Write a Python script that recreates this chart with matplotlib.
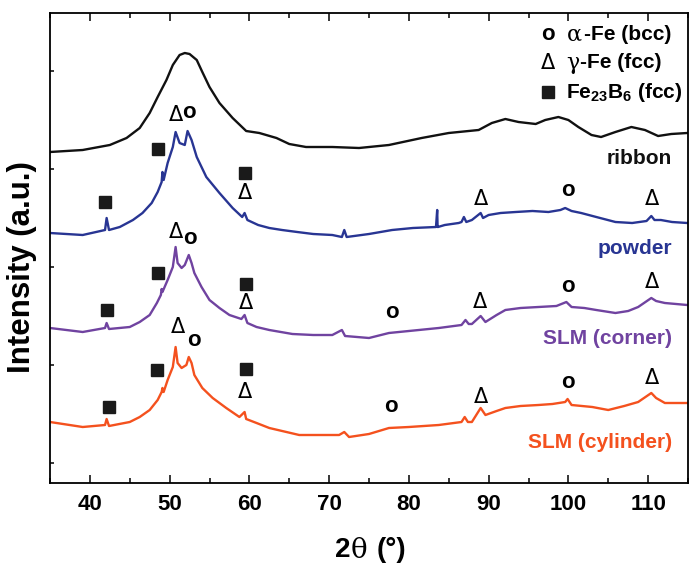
import matplotlib
matplotlib.use("Agg")
import matplotlib.pyplot as plt
import numpy as np

plt.rcParams['font.family'] = ['Liberation Sans', 'DejaVu Sans']
plt.rcParams['font.weight'] = 'bold'
plt.rcParams['mathtext.fontset'] = 'custom'
plt.rcParams['mathtext.bf'] = 'Liberation Sans:bold'
plt.rcParams['mathtext.rm'] = 'Liberation Sans:bold'
plt.rcParams['mathtext.default'] = 'bf'

# 2theta / intensity (arb. units, already offset)
ribbon_x = [35, 39.1, 42.5, 44.6, 46.25, 47.5, 48.5, 49.6, 50.4, 51.25, 51.9, 52.5, 53.4,
            54.1, 55.0, 56.25, 57.9, 59.6, 61.25, 63.4, 65.0, 67.1, 70.4, 73.75, 77.5,
            81.6, 85.0, 88.75, 90.4, 92.1, 93.75, 95.9, 97.1, 98.75, 100.0, 101.25,
            102.9, 104.1, 105.9, 107.9, 109.6, 111.25, 112.9, 114.9]
ribbon_y = [331, 333, 338, 345, 355, 370, 386, 403, 418, 428, 430, 429, 423,
            411, 396, 380, 365, 352, 350, 345, 339, 336, 336, 335, 338,
            345, 350, 353, 360, 364, 361, 359, 363, 366, 363, 356,
            348, 346, 351, 356, 353, 347, 349, 350]

powder_x = [35, 39.1, 41.9, 42.1, 42.4, 43.75, 45.4, 46.6, 47.75, 48.5, 49.0, 49.1, 49.25,
            49.75, 50.4, 50.75, 51.25, 51.9, 52.25, 52.75, 53.4, 54.6, 56.25, 57.9, 59.1,
            59.4, 59.75, 61.1, 62.5, 64.1, 66.0, 68.0, 70.4, 71.6, 71.9, 72.2, 75.0,
            77.9, 80.5, 83.4, 83.55, 83.6, 83.65, 84.5, 86.25, 86.6, 86.9, 87.2, 87.9,
            89.0, 89.3, 90.0, 91.5, 93.4, 95.5, 97.5, 99.0, 99.6, 100.4, 101.6, 103.5,
            105.9, 108.0, 109.8, 110.4, 110.8, 111.6, 113.0, 114.9]
powder_y = [250, 248, 253, 265, 253, 256, 263, 270, 280, 291, 301, 311, 303,
            320, 336, 351, 340, 338, 352, 343, 326, 306, 290, 275, 266,
            270, 263, 258, 255, 253, 251, 249, 248, 246, 253, 246, 249,
            253, 255, 256, 273, 256, 256, 258, 260, 261, 266, 261, 263,
            270, 265, 268, 270, 271, 272, 271, 273, 275, 272, 270, 266,
            261, 260, 262, 267, 263, 263, 261, 260]

corner_x = [35, 39.1, 41.9, 42.1, 42.4, 45.0, 46.25, 47.5, 48.4, 48.9, 49.0, 49.1, 49.75,
            50.4, 50.75, 51.0, 51.5, 51.9, 52.4, 52.75, 53.1, 54.0, 55.0, 56.25, 57.5,
            59.0, 59.4, 59.75, 60.9, 62.5, 65.4, 68.0, 70.4, 71.6, 72.0, 75.0, 77.5,
            80.0, 83.75, 86.6, 87.1, 87.5, 87.9, 89.0, 89.6, 91.0, 92.1, 94.0, 96.25,
            98.5, 99.75, 100.4, 102.0, 103.5, 105.9, 107.5, 108.75, 110.4, 111.0,
            112.1, 114.9]
corner_y = [155, 151, 155, 160, 154, 156, 161, 168, 180, 188, 194, 191, 203,
            216, 236, 220, 215, 218, 228, 220, 210, 196, 183, 175, 168,
            164, 168, 160, 156, 153, 149, 148, 148, 153, 147, 145, 150,
            152, 155, 158, 163, 159, 159, 167, 161, 168, 173, 175, 176,
            177, 181, 176, 175, 173, 170, 172, 176, 185, 182,
            180, 178]

cylinder_x = [35, 39.1, 41.9, 42.1, 42.4, 45.0, 46.25, 47.5, 48.5, 49.0, 49.1, 49.25,
              49.75, 50.4, 50.75, 51.0, 51.5, 52.1, 52.4, 52.75, 53.1, 54.1, 55.4, 57.1,
              58.75, 59.4, 59.6, 60.9, 62.5, 66.25, 71.25, 71.9, 72.5, 75.0, 77.5, 80.0,
              83.75, 86.6, 87.0, 87.4, 87.9, 89.0, 89.6, 91.0, 92.1, 94.0, 96.25, 98.0,
              99.6, 99.9, 100.4, 103.0, 105.0, 107.0, 108.75, 110.4, 111.0, 112.1, 114.9]
cylinder_y = [61, 56, 58, 64, 57, 61, 66, 73, 83, 91, 95, 91,
              103, 116, 136, 120, 115, 118, 126, 120, 108, 95, 85, 75,
              66, 71, 64, 60, 55, 48, 48, 51, 46, 49, 55, 56,
              58, 61, 66, 61, 61, 75, 68, 72, 75, 77, 78, 79,
              81, 84, 78, 76, 73, 77, 81, 90, 85, 80, 80]

series = [
    ("ribbon", ribbon_x, ribbon_y, "#111111", 325),
    ("powder", powder_x, powder_y, "#283593", 235),
    ("SLM (corner)", corner_x, corner_y, "#7043a0", 145),
    ("SLM (cylinder)", cylinder_x, cylinder_y, "#f4511e", 41),
]

# phase markers: (2theta, height)
alpha_pos = [(52.4, 370), (99.9, 292), (52.5, 245), (77.9, 171), (99.9, 196),
             (53.0, 143), (77.75, 76), (99.9, 100)]
gamma_pos = [(50.75, 368), (59.5, 290), (89.1, 284), (110.5, 284),
             (50.75, 251), (59.6, 180), (88.9, 181), (110.5, 201),
             (51.0, 156), (59.5, 91), (89.1, 86), (110.5, 105)]
boride_pos = [(48.5, 334), (59.5, 310), (41.9, 281),
              (48.6, 210), (59.6, 199), (42.1, 173),
              (48.4, 113), (59.6, 114), (42.4, 76)]

fig = plt.figure(figsize=(6.89, 5.66), dpi=100)
ax = fig.add_axes([50/689, 1 - 483/566, 638/689, 470/566])

for name, x, y, c, ly in series:
    ax.plot(x, y, color=c, lw=1.7)
    ax.text(113.0, ly, name, color=c, fontsize=15, fontweight='bold',
            ha='right', va='center')

for x, y in alpha_pos:
    ax.text(x, y, "o", fontsize=16, fontweight='bold', ha='center', va='center')
for x, y in gamma_pos:
    ax.text(x, y, "Δ", fontsize=15, fontweight='normal', family='DejaVu Sans',
            ha='center', va='center')
bx, by = zip(*boride_pos)
ax.plot(bx, by, 's', color='#1a1a1a', ms=8.5, ls='none')

# legend (hand placed, like the original)
ax.text(97.5, 448, "o", fontsize=16, fontweight='bold', ha='center', va='center')
ax.text(97.5, 420, "Δ", fontsize=15, fontweight='normal', family='DejaVu Sans',
        ha='center', va='center')
ax.plot([97.5], [391], 's', color='#1a1a1a', ms=8, ls='none')
ax.text(99.75, 448, "α", fontsize=16, fontweight='normal', family='DejaVu Serif',
        ha='left', va='center')
ax.text(101.9, 448, "-Fe (bcc)", fontsize=15, fontweight='bold', ha='left', va='center')
ax.text(99.75, 420, "γ", fontsize=16, fontweight='normal', family='DejaVu Serif',
        ha='left', va='center')
ax.text(101.5, 420, "-Fe (fcc)", fontsize=15, fontweight='bold', ha='left', va='center')
ax.text(99.75, 391, "Fe$_{23}$B$_{6}$ (fcc)", fontsize=15, fontweight='bold',
        ha='left', va='center')

ax.set_xlim(35, 115)
ax.set_ylim(0, 470)
ax.set_xticks(np.arange(40, 115, 10))
ax.set_xticks(np.arange(35, 116, 5), minor=True)
ax.set_yticks(np.arange(20, 470, 98))
ax.set_yticklabels([])
ax.tick_params(axis='x', which='major', direction='in', length=6, width=1.1,
               top=True, labelsize=16, pad=8)
ax.tick_params(axis='x', which='minor', direction='in', length=3.5, width=1.1, top=True)
ax.tick_params(axis='y', direction='in', length=3, width=1.1)
for lab in ax.get_xticklabels():
    lab.set_fontweight('bold')
for s in ax.spines.values():
    s.set_linewidth(1.3)

fig.text(22/689, 1 - 267/566, "Intensity (a.u.)", fontsize=22.5, fontweight='bold',
         rotation=90, ha='center', va='center')
fig.text(0.508, 0.028, "2", fontsize=20, fontweight='bold', ha='right', va='center')
fig.text(0.509, 0.028, "θ", fontsize=20, fontweight='normal', family='DejaVu Serif',
         ha='left', va='center')
fig.text(0.547, 0.028, "(°)", fontsize=20, fontweight='bold', ha='left', va='center')

fig.savefig("out.png", dpi=100)
